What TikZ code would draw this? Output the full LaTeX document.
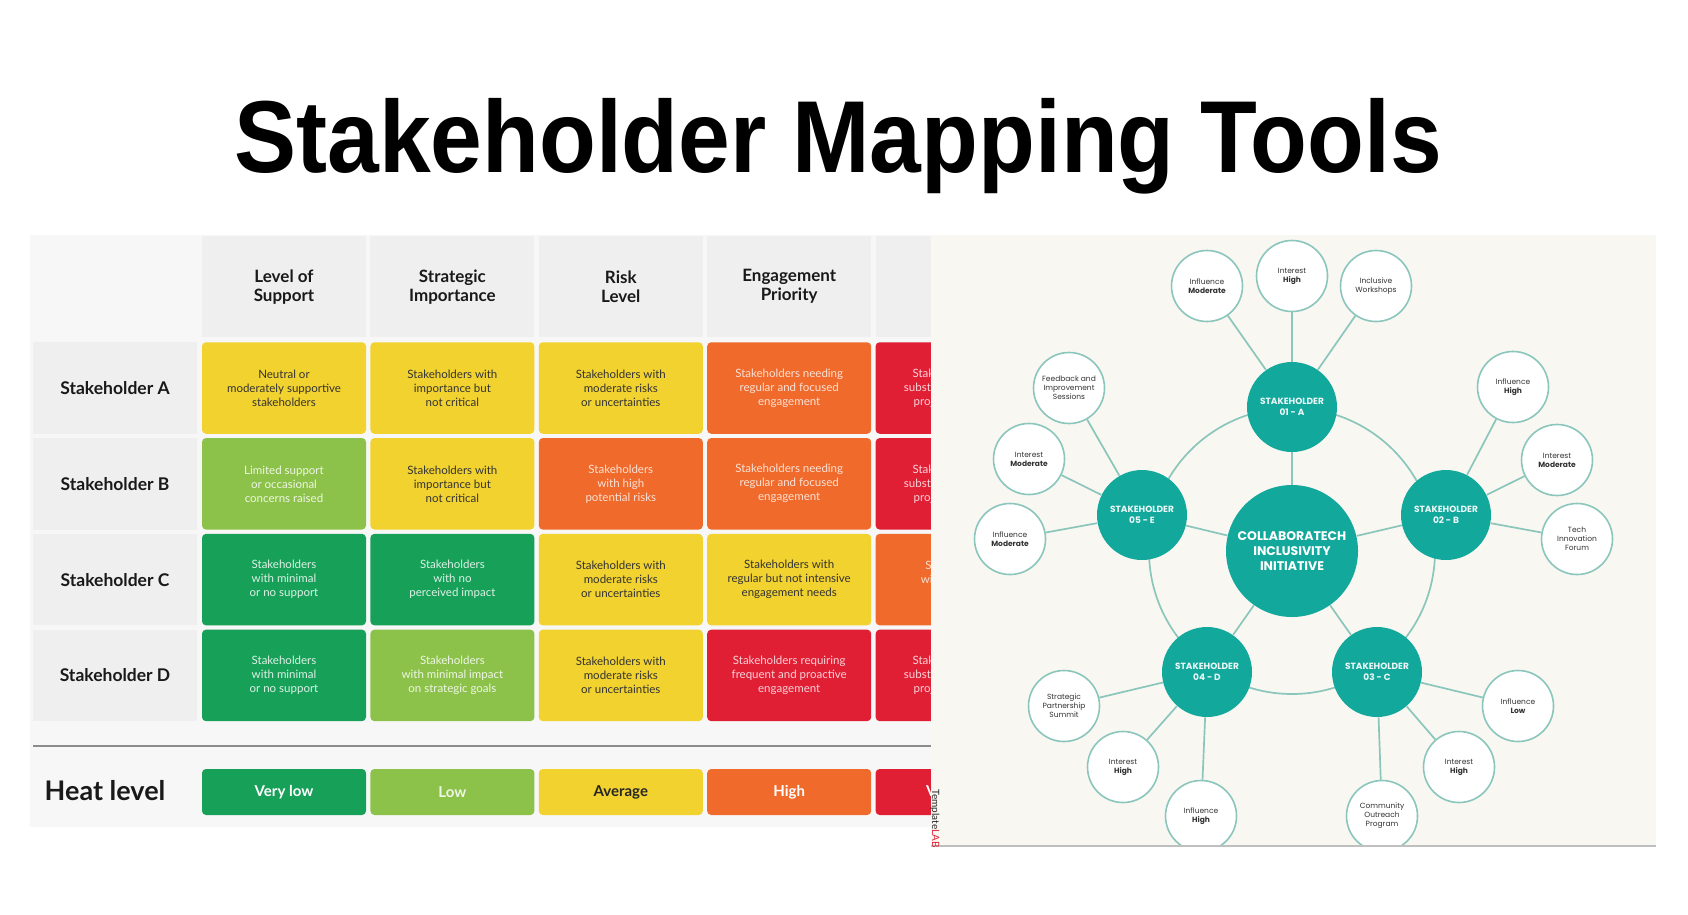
\documentclass[tikz,border=0pt]{standalone}
\usepackage{fontspec}
\setmainfont{Lato}
\newfontfamily\popfont{Poppins}
\newfontfamily\arialfont{Liberation Sans}
\usepackage{xcolor}
\usepackage{tikz}
\usetikzlibrary{positioning}

\definecolor{heatY}{HTML}{F2D22F}
\definecolor{heatLG}{HTML}{8CC24A}
\definecolor{heatDG}{HTML}{17A058}
\definecolor{heatO}{HTML}{EF6A2B}
\definecolor{heatR}{HTML}{E01F35}
\definecolor{panelgray}{HTML}{F7F7F7}
\definecolor{cellgray}{HTML}{EFEFEF}
\definecolor{cream}{HTML}{F9F7F1}
\definecolor{tealfill}{HTML}{13A89C}
\definecolor{tealline}{HTML}{8AC6BC}

\newcommand{\cellfont}{\fontsize{11.5}{14}\selectfont}
\newcommand{\headfont}{\bfseries\fontsize{17}{19}\selectfont}

\begin{document}
\begin{tikzpicture}[x=1pt, y=-1pt, thick]
    % Styles
    \tikzstyle{cell}=[rectangle, rounded corners=4pt, minimum width=164pt, minimum height=91.5pt, inner sep=0pt, outer sep=0pt, align=center, font=\cellfont]
    \tikzstyle{cellY}=[cell, fill=heatY, text=black!80]
    \tikzstyle{cellLG}=[cell, fill=heatLG, text=heatLG!15!white]
    \tikzstyle{cellDG}=[cell, fill=heatDG, text=heatDG!15!white]
    \tikzstyle{cellO}=[cell, fill=heatO, text=heatO!20!white]
    \tikzstyle{cellR}=[cell, fill=heatR, text=heatR!20!white]
    \tikzstyle{head}=[rectangle, minimum width=164pt, minimum height=101pt, inner sep=0pt, outer sep=0pt, align=center, fill=cellgray, font=\headfont, text=black!90]
    \tikzstyle{rowlab}=[rectangle, minimum width=164pt, minimum height=91.5pt, inner sep=0pt, outer sep=0pt, fill=cellgray, font=\bfseries\fontsize{17.5}{20}\selectfont, text=black!90]
    \tikzstyle{heat}=[rectangle, rounded corners=4pt, minimum width=164pt, minimum height=46pt, inner sep=0pt, outer sep=0pt, font=\bfseries\fontsize{15}{18}\selectfont]
    \tikzstyle{hub}=[circle, fill=tealfill, minimum size=132pt, inner sep=0pt, align=center, text=white, font=\popfont\bfseries\fontsize{12.5}{15}\selectfont]
    \tikzstyle{stake}=[circle, fill=tealfill, minimum size=90pt, inner sep=0pt, align=center, text=tealfill!8!white, font=\popfont\bfseries\fontsize{9}{10.5}\selectfont]
    \tikzstyle{leaf}=[circle, draw=tealline, line width=1.6pt, fill=white, minimum size=71pt, inner sep=0pt, align=center, text=black!80, font=\popfont\fontsize{7.5}{9}\selectfont]
    \tikzstyle{link}=[draw=tealline, line width=1.7pt]

    \useasboundingbox (0,0) rectangle (1688,914);
    \fill[white] (0,0) rectangle (1688,914);

    % Title
    \node[anchor=base, font=\arialfont\bfseries\fontsize{93}{100}\selectfont] (title) at (838,172) {\scalebox{1}[1.1]{Stakeholder Mapping Tools}};

    % Heat map table
    \fill[panelgray] (30,235) rectangle (931,827);

    \node[rowlab] (rA) at (115,388) {Stakeholder A};
    \node[rowlab, below=4.3pt of rA] (rB) {Stakeholder B};
    \node[rowlab, below=4.3pt of rB] (rC) {Stakeholder C};
    \node[rowlab, below=4.3pt of rC] (rD) {Stakeholder D};

    \node[cellY, right=5pt of rA] (a1) {Neutral or\\moderately supportive\\stakeholders};
    \node[cellY, right=4.4pt of a1] (a2) {Stakeholders with\\importance but\\not critical};
    \node[cellY, right=4.4pt of a2] (a3) {Stakeholders with\\moderate risks\\or uncertainties};
    \node[cellO, right=4.4pt of a3] (a4) {Stakeholders needing\\regular and focused\\engagement};

    \node[cellLG, right=5pt of rB] (b1) {Limited support\\or occasional\\concerns raised};
    \node[cellY, right=4.4pt of b1] (b2) {Stakeholders with\\importance but\\not critical};
    \node[cellO, right=4.4pt of b2] (b3) {Stakeholders\\with high\\potential risks};
    \node[cellO, right=4.4pt of b3] (b4) {Stakeholders needing\\regular and focused\\engagement};

    \node[cellDG, right=5pt of rC] (c1) {Stakeholders\\with minimal\\or no support};
    \node[cellDG, right=4.4pt of c1] (c2) {Stakeholders\\with no\\perceived impact};
    \node[cellY, right=4.4pt of c2] (c3) {Stakeholders with\\moderate risks\\or uncertainties};
    \node[cellY, right=4.4pt of c3] (c4) {Stakeholders with\\regular but not intensive\\engagement needs};

    \node[cellDG, right=5pt of rD] (d1) {Stakeholders\\with minimal\\or no support};
    \node[cellLG, right=4.4pt of d1] (d2) {Stakeholders\\with minimal impact\\on strategic goals};
    \node[cellY, right=4.4pt of d2] (d3) {Stakeholders with\\moderate risks\\or uncertainties};
    \node[cellR, right=4.4pt of d3] (d4) {Stakeholders requiring\\frequent and proactive\\engagement};

    \node[head, above=5pt of a1] (h1) {Level of\\Support};
    \node[head, above=5pt of a2] (h2) {Strategic\\Importance};
    \node[head, above=5pt of a3] (h3) {Risk\\Level};
    \node[head, above=5pt of a4] (h4) {Engagement\\Priority};

    \draw[black!45, line width=1.5pt] (33,746) -- (931,746);

    \node[anchor=base west, font=\bfseries\fontsize{27}{30}\selectfont, text=black!90] (heatlab) at (41,800) {Heat level};
    \node[heat, fill=heatDG, text=white] (v1) at (284,792) {Very low};
    \node[heat, fill=heatLG, text=heatLG!15!white, right=4.4pt of v1] (v2) {Low};
    \node[heat, fill=heatY, text=black!85, right=4.4pt of v2] (v3) {Average};
    \node[heat, fill=heatO, text=white, right=4.4pt of v3] (v4) {High};

    % cut-off last column
    \begin{scope}
        \clip (30,235) rectangle (931,827);
        \node[head, right=4.4pt of h4] (h5) {};
        \node[cellR, right=4.4pt of a4] (a5) {Stakeholders with\\substantial impact on\\project outcomes};
        \node[cellR, right=4.4pt of b4] (b5) {Stakeholders with\\substantial impact on\\project outcomes};
        \node[cellO, right=4.4pt of c4] (c5) {Stakeholders\\with moderate\\influence};
        \node[cellR, right=4.4pt of d4] (d5) {Stakeholders with\\substantial impact on\\project outcomes};
        \node[heat, fill=heatR, text=white, right=4.4pt of v4] (v5) {Very high};
    \end{scope}

    % Stakeholder map
    \begin{scope}
        \clip (931,235) rectangle (1656,846);
        \fill[cream] (931,235) rectangle (1656,846);

        \coordinate (hubc) at (1292,551);
        \draw[link] (hubc) circle[radius=143pt];

        \node[hub] (hub) at (hubc) {COLLABORATECH\\INCLUSIVITY\\INITIATIVE};
        \node[stake] (s1) at (1292,407) {STAKEHOLDER\\01 - A};
        \node[stake] (s2) at (1446,515) {STAKEHOLDER\\02 - B};
        \node[stake] (s3) at (1377,672) {STAKEHOLDER\\03 - C};
        \node[stake] (s4) at (1207,672) {STAKEHOLDER\\04 - D};
        \node[stake] (s5) at (1142,515) {STAKEHOLDER\\05 - E};

        \node[leaf] (l1a) at (1207,286) {Influence\\\textbf{Moderate}};
        \node[leaf] (l1b) at (1292,276) {Interest\\\textbf{High}};
        \node[leaf] (l1c) at (1376,286) {Inclusive\\Workshops};
        \node[leaf] (l2a) at (1513,387) {Influence\\\textbf{High}};
        \node[leaf] (l2b) at (1557,460) {Interest\\\textbf{Moderate}};
        \node[leaf] (l2c) at (1577,539) {Tech\\Innovation\\Forum};
        \node[leaf] (l3a) at (1518,706) {Influence\\\textbf{Low}};
        \node[leaf] (l3b) at (1459,767) {Interest\\\textbf{High}};
        \node[leaf] (l3c) at (1382,816) {Community\\Outreach\\Program};
        \node[leaf] (l4a) at (1064,706) {Strategic\\Partnership\\Summit};
        \node[leaf] (l4b) at (1123,767) {Interest\\\textbf{High}};
        \node[leaf] (l4c) at (1201,816) {Influence\\\textbf{High}};
        \node[leaf] (l5a) at (1069,388) {Feedback and\\Improvement\\Sessions};
        \node[leaf] (l5b) at (1029,459) {Interest\\\textbf{Moderate}};
        \node[leaf] (l5c) at (1010,539) {Influence\\\textbf{Moderate}};

        \foreach \s in {1,...,5}
            \draw[link] (hub) -- (s\s);
        \foreach \s in {1,...,5}
            \foreach \l in {a,b,c}
                \draw[link] (s\s) -- (l\s\l);
    \end{scope}
    \draw[black!25, line width=2pt] (931,846) -- (1656,846);

    \node[rotate=-90, anchor=west, inner sep=0pt, font=\fontsize{10}{11}\selectfont, text=black!85] (wm) at (935,789) {Template\textcolor{heatR}{LAB}};
\end{tikzpicture}
\end{document}
